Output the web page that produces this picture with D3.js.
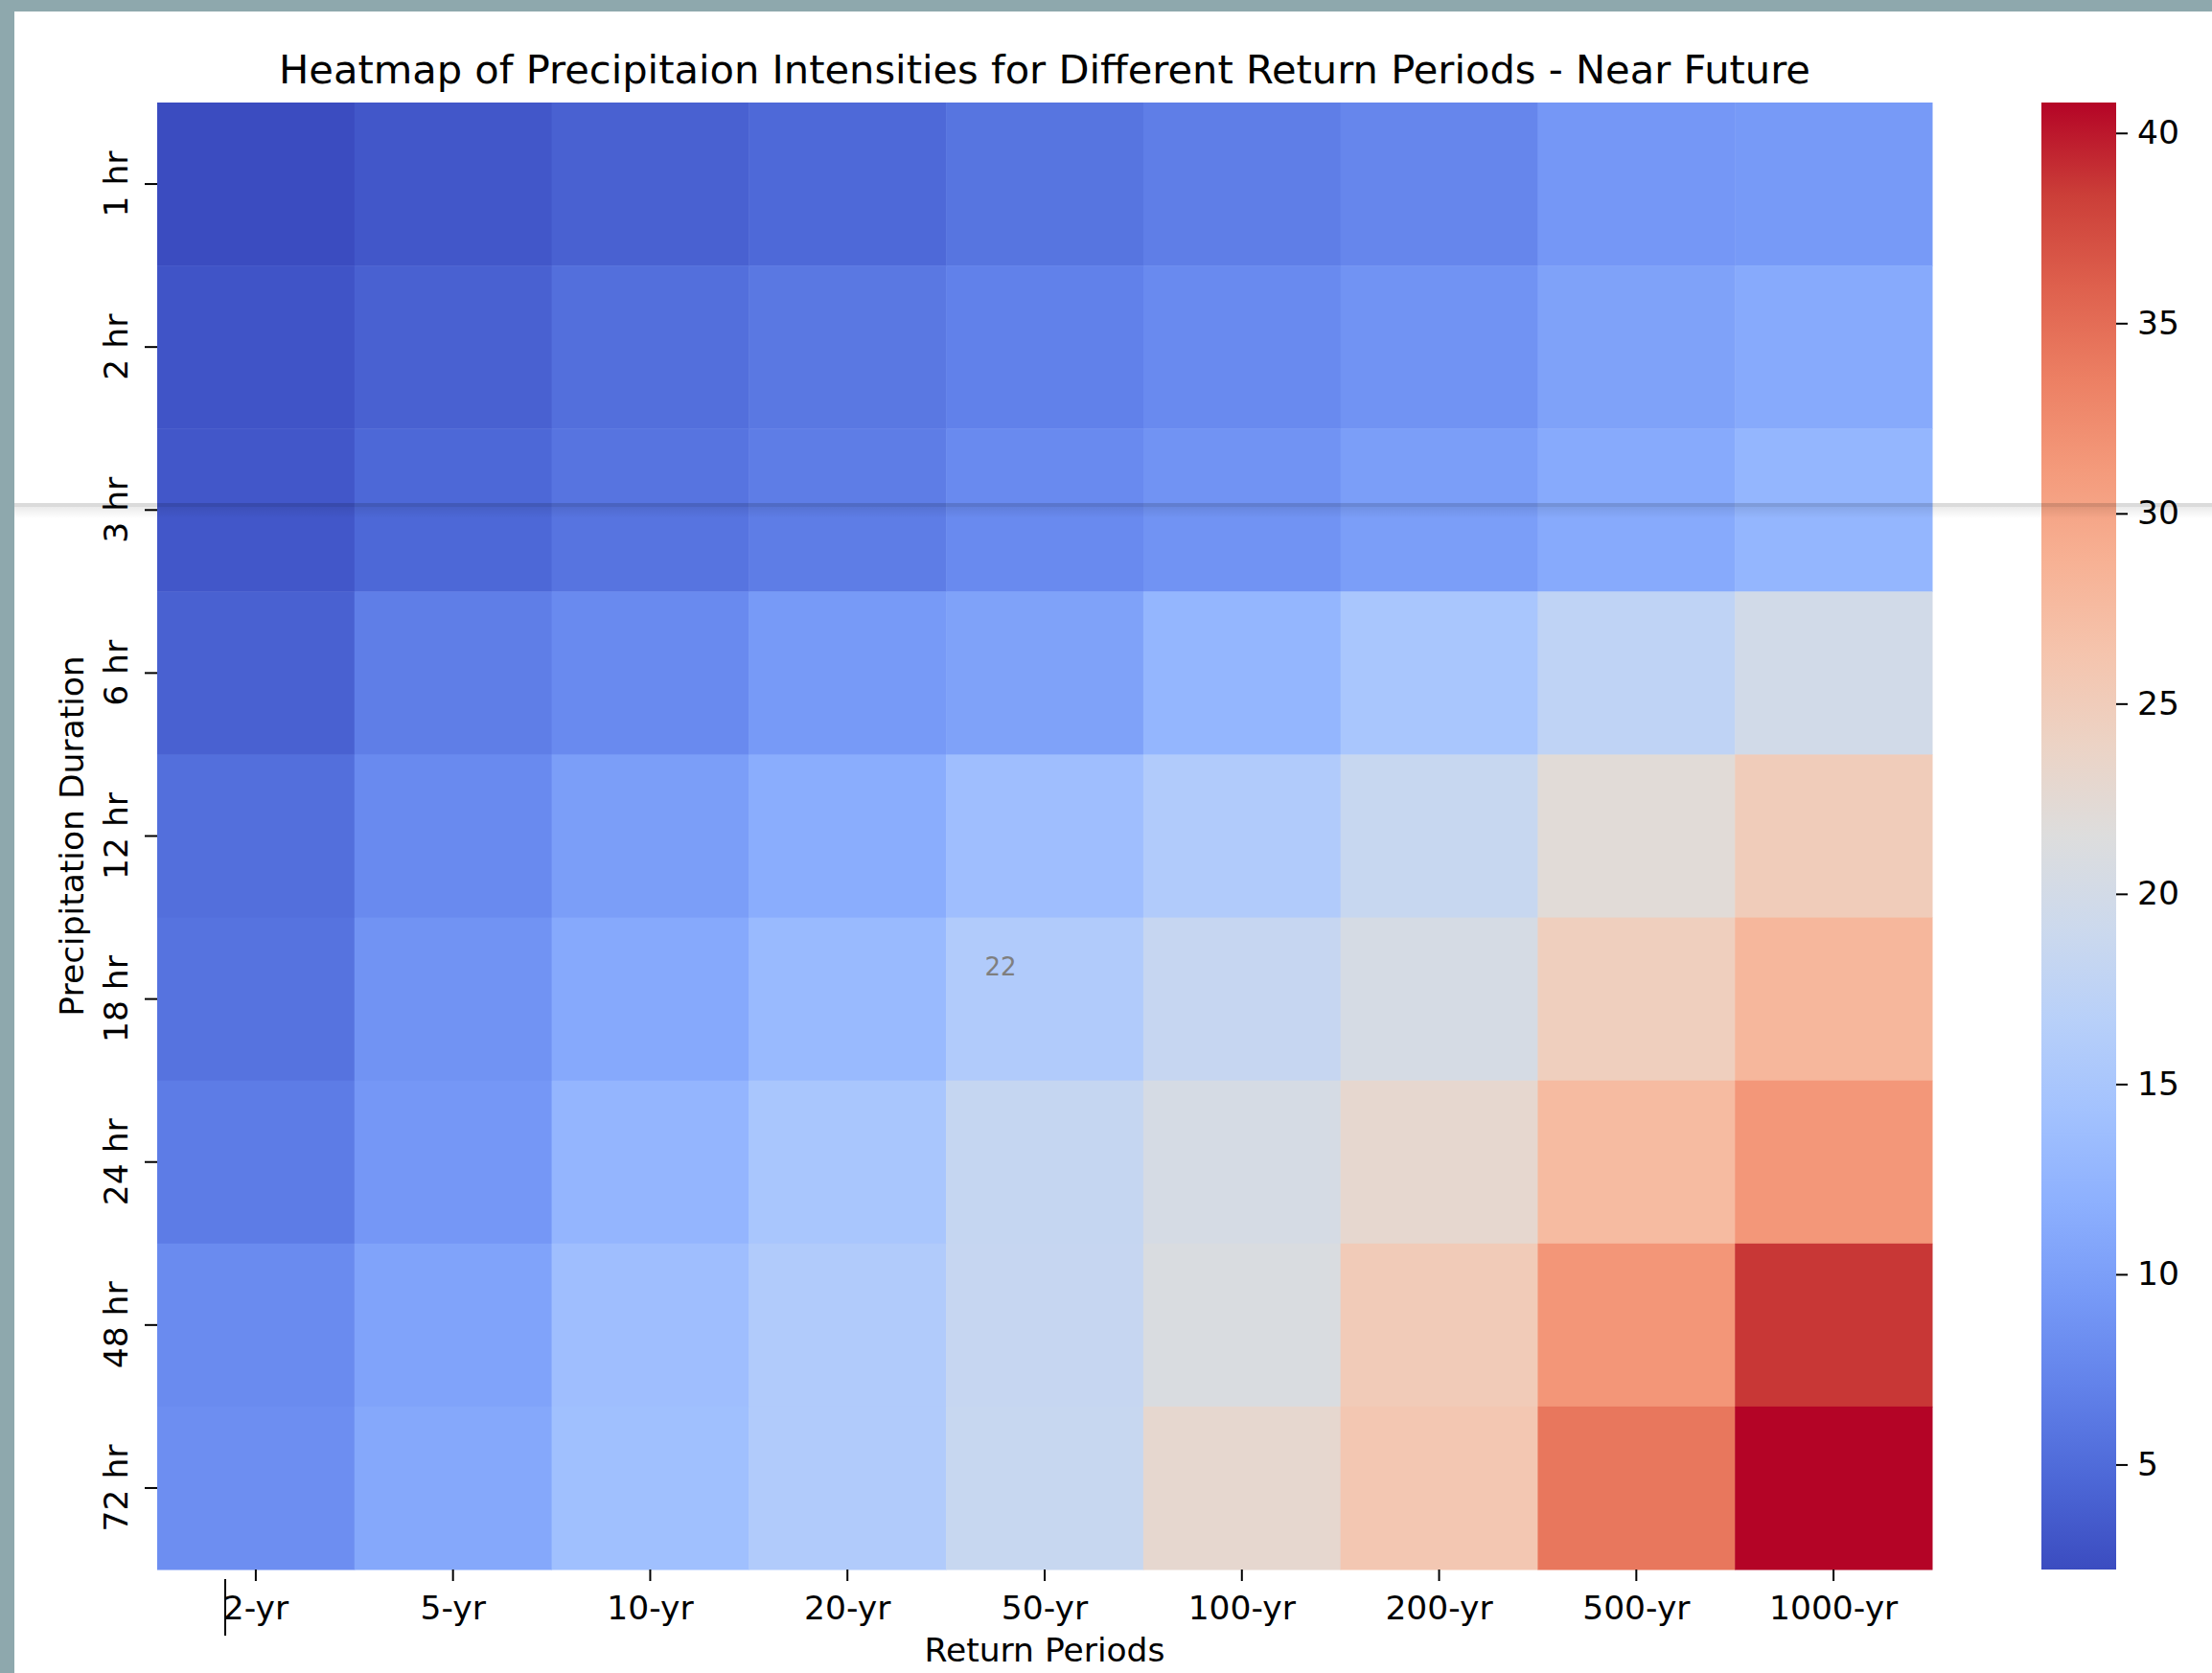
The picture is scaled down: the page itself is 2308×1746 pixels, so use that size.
<!DOCTYPE html>
<html>
<head>
<meta charset="utf-8">
<script src="https://cdn.jsdelivr.net/npm/d3@7"></script>
<style>
  html, body { margin: 0; padding: 0; background: #fff; }
  svg { display: block; }
  text { font-family: 'DejaVu Sans', sans-serif; }
</style>
</head>
<body>
<div id="chart"></div>
<script>
// rows = precipitation duration, columns = return period
var durations = ['1 hr', '2 hr', '3 hr', '6 hr', '12 hr', '18 hr', '24 hr', '48 hr', '72 hr'];
var returnPeriods = ['2-yr', '5-yr', '10-yr', '20-yr', '50-yr', '100-yr', '200-yr', '500-yr', '1000-yr'];

var hr1  = [2.24, 3.2, 4.05, 4.75, 5.85, 6.7, 7.5, 9.2, 9.5];
var hr2  = [2.95, 4.05, 5.3, 6.1, 7.0, 7.9, 8.8, 10.3, 11.2];
var hr3  = [3.2, 4.65, 5.75, 6.6, 7.9, 8.8, 9.9, 11.2, 12.7];
var hr6  = [4.05, 6.7, 7.9, 9.5, 10.3, 12.7, 15.0, 17.5, 19.8];
var hr12 = [5.3, 7.9, 9.9, 11.5, 13.8, 15.9, 18.5, 22.1, 25.0];
var hr18 = [5.7, 8.8, 11.1, 13.2, 15.9, 18.4, 20.4, 24.6, 28.0];
var hr24 = [6.5, 9.2, 12.6, 15.0, 18.3, 20.4, 22.9, 27.5, 31.4];
var hr48 = [7.95, 10.5, 13.8, 15.9, 18.4, 21.0, 25.2, 31.5, 38.7];
var hr72 = [8.3, 10.95, 14.0, 15.9, 18.5, 22.9, 25.8, 34.2, 40.8];

var colorTicks = [5, 10, 15, 20, 25, 30, 35, 40];

(function () {
  'use strict';

  var W = 2308, H = 1746;
  var plot = { left: 164, right: 2016, top: 107, bottom: 1638 };
  var cbar = { x: 2130, w: 78 };

  // matplotlib coolwarm, sampled every 1/16
  var coolwarm = ['#3b4cc0', '#4d68d7', '#6282ea', '#779af7', '#8db0fe', '#a3c2fe', '#b8d0f9', '#ccd9ed',
    '#dddddd', '#ecd3c5', '#f5c4ad', '#f7b194', '#f49a7b', '#ec7f63', '#de604d', '#cb3e38', '#b40426'];
  var stopT = coolwarm.map(function (c, i) { return i / (coolwarm.length - 1); });
  var cmap = d3.scaleLinear().domain(stopT).range(coolwarm).interpolate(d3.interpolateRgb).clamp(true);

  var rows = [hr1, hr2, hr3, hr6, hr12, hr18, hr24, hr48, hr72];
  var cells = [];
  rows.forEach(function (vals, i) {
    vals.forEach(function (v, j) {
      cells.push({ dur: durations[i], rp: returnPeriods[j], value: v });
    });
  });
  var vmin = d3.min(cells, function (d) { return d.value; });
  var vmax = d3.max(cells, function (d) { return d.value; });
  var norm = d3.scaleLinear().domain([vmin, vmax]).range([0, 1]);
  function color(v) { return cmap(norm(v)); }

  var svg = d3.select('#chart').append('svg').attr('width', W).attr('height', H);
  svg.append('rect').attr('width', W).attr('height', H).attr('fill', '#fff');

  var x = d3.scaleBand().domain(returnPeriods).range([plot.left, plot.right]);
  var y = d3.scaleBand().domain(durations).range([plot.top, plot.bottom]);

  svg.append('g').attr('class', 'cells')
    .selectAll('rect')
    .data(cells)
    .join('rect')
    .attr('x', function (d) { return x(d.rp); })
    .attr('y', function (d) { return y(d.dur); })
    .attr('width', x.bandwidth() + 0.5)
    .attr('height', y.bandwidth() + 0.5)
    .attr('fill', function (d) { return color(d.value); });

  // x axis
  var gx = svg.append('g')
    .attr('transform', 'translate(0,' + plot.bottom + ')')
    .call(d3.axisBottom(x).tickSize(12).tickPadding(16));
  gx.select('.domain').remove();
  gx.selectAll('.tick line').attr('stroke', '#000').attr('stroke-width', 2);
  gx.selectAll('.tick text').attr('font-size', '34.5px').attr('fill', '#000')
    .attr('font-family', 'DejaVu Sans');

  // y axis, labels rotated like matplotlib
  var gy = svg.append('g')
    .attr('transform', 'translate(' + plot.left + ',0)')
    .call(d3.axisLeft(y).tickSize(13));
  gy.select('.domain').remove();
  gy.selectAll('.tick line').attr('stroke', '#000').attr('stroke-width', 2);
  gy.selectAll('.tick text')
    .attr('x', null).attr('dy', null)
    .attr('text-anchor', 'middle')
    .attr('transform', 'translate(-31,0) rotate(-90)')
    .attr('font-size', '34.5px').attr('fill', '#000')
    .attr('font-family', 'DejaVu Sans');

  // colorbar
  var defs = svg.append('defs');
  var grad = defs.append('linearGradient').attr('id', 'cbarGrad')
    .attr('x1', '0%').attr('y1', '100%').attr('x2', '0%').attr('y2', '0%');
  grad.selectAll('stop').data(stopT).join('stop')
    .attr('offset', function (t) { return (t * 100) + '%'; })
    .attr('stop-color', function (t) { return cmap(t); });
  svg.append('rect')
    .attr('x', cbar.x).attr('y', plot.top)
    .attr('width', cbar.w).attr('height', plot.bottom - plot.top)
    .attr('fill', 'url(#cbarGrad)');

  var cScale = d3.scaleLinear().domain([vmin, vmax]).range([plot.bottom, plot.top]);
  var gc = svg.append('g')
    .attr('transform', 'translate(' + (cbar.x + cbar.w) + ',0)')
    .call(d3.axisRight(cScale).tickValues(colorTicks).tickSize(12).tickPadding(10));
  gc.select('.domain').remove();
  gc.selectAll('.tick line').attr('stroke', '#000').attr('stroke-width', 2);
  gc.selectAll('.tick text').attr('font-size', '34.5px').attr('fill', '#000')
    .attr('font-family', 'DejaVu Sans');

  // titles
  var midX = (plot.left + plot.right) / 2;
  svg.append('text').attr('x', midX).attr('y', 87)
    .attr('text-anchor', 'middle').attr('font-size', '41.6px').attr('fill', '#000')
    .text('Heatmap of Precipitaion Intensities for Different Return Periods - Near Future');
  svg.append('text').attr('x', midX).attr('y', 1734)
    .attr('text-anchor', 'middle').attr('font-size', '34.5px').attr('fill', '#000')
    .text('Return Periods');
  svg.append('text')
    .attr('transform', 'translate(87,' + ((plot.top + plot.bottom) / 2) + ') rotate(-90)')
    .attr('text-anchor', 'middle').attr('font-size', '34.5px').attr('fill', '#000')
    .text('Precipitation Duration');

  // stray grey label left in the screenshot
  svg.append('text').attr('x', 1044).attr('y', 1018)
    .attr('text-anchor', 'middle').attr('font-size', '26px').attr('fill', '#7f7f7f')
    .attr('font-family', 'Open Sans').text('22');

  // screenshot artefacts: shadow line, text cursor, frame
  var shade = defs.append('linearGradient').attr('id', 'shade')
    .attr('x1', '0%').attr('y1', '0%').attr('x2', '0%').attr('y2', '100%');
  shade.append('stop').attr('offset', '0%').attr('stop-color', '#000').attr('stop-opacity', 0.08);
  shade.append('stop').attr('offset', '100%').attr('stop-color', '#000').attr('stop-opacity', 0);
  svg.append('rect').attr('x', 0).attr('y', 525).attr('width', W).attr('height', 4)
    .attr('fill', '#000').attr('fill-opacity', 0.14);
  svg.append('rect').attr('x', 0).attr('y', 529).attr('width', W).attr('height', 12)
    .attr('fill', 'url(#shade)');
  svg.append('line').attr('x1', 235).attr('x2', 235).attr('y1', 1648).attr('y2', 1707)
    .attr('stroke', '#000').attr('stroke-width', 2);

  svg.append('rect').attr('x', 0).attr('y', 0).attr('width', 15).attr('height', H).attr('fill', '#8ea8ad');
  svg.append('rect').attr('x', 0).attr('y', 0).attr('width', W).attr('height', 12).attr('fill', '#8ea8ad');
})();
</script>
</body>
</html>
